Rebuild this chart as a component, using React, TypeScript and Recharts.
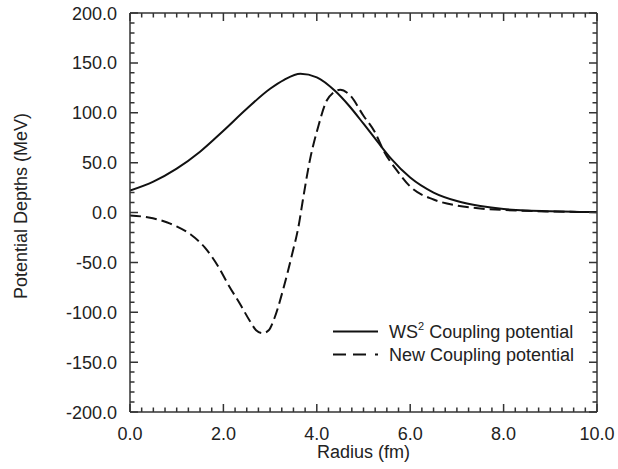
import React from "react";
import { LineChart, Line, XAxis, YAxis, Legend, Label } from "recharts";

// ---- data ----
const wsRadius = [0, 0.5, 1.0, 1.5, 2.0, 2.5, 3.0, 3.3, 3.65, 4.0, 4.4, 4.7, 5.0, 5.3, 5.6, 6.0, 6.5, 7.0, 7.5, 8.0, 8.5, 9.0, 9.5, 10.0];
const wsValues = [22, 31, 44, 61, 82, 104, 124, 133, 139, 135.5, 121.5, 106.5, 89, 71, 53.5, 35, 20, 11.5, 6.5, 3.5, 2, 1.2, 0.7, 0.4];

const newRadius = [0, 0.4, 0.8, 1.0, 1.3, 1.6, 1.9, 2.1, 2.36, 2.57, 2.7, 2.84, 2.97, 3.1, 3.28, 3.46, 3.62, 3.7, 3.85, 4.03, 4.21, 4.35, 4.5, 4.7, 5.0, 5.25, 5.42, 5.75, 6.0, 6.5, 7.0, 7.5, 8.0, 9.0, 10.0];
const newValues = [-3, -5, -10, -14, -22, -35, -55, -72, -92, -109, -118, -121, -118, -105, -77, -44, -11, 12, 52, 86, 112, 120, 123, 118, 97, 80, 63, 40, 26, 13, 7, 4, 2.5, 1, 0.3];

const xMajorTicks = [0, 2, 4, 6, 8, 10];
const yMajorTicks = [-200, -150, -100, -50, 0, 50, 100, 150, 200];
const xMinorStep = 0.25;
const yMinorStep = 10;

const seriesNames = { ws: "WS", wsSup: "2", wsRest: " Coupling potential", newer: "New Coupling potential" };
const xTitle = "Radius (fm)";
const yTitle = "Potential Depths (MeV)";

const wsData = wsRadius.map((r, i) => ({ r, v: wsValues[i] }));
const newData = newRadius.map((r, i) => ({ r, v: newValues[i] }));

const FONT = "'Liberation Sans', Arial, Helvetica, sans-serif";
const TXT = "#222";
const TICK = "#333";

const xMin = 0, xMax = 10, yMin = -200, yMax = 200;
const xAllTicks: number[] = [];
for (let i = 0; i <= Math.round((xMax - xMin) / xMinorStep); i++) xAllTicks.push(+(xMin + i * xMinorStep).toFixed(2));
const yAllTicks: number[] = [];
for (let i = 0; i <= Math.round((yMax - yMin) / yMinorStep); i++) yAllTicks.push(yMin + i * yMinorStep);

// plot frame in page pixels (chart placed at page 0,0)
const W = 618, H = 469;
const PL = 130, PR = 597, PT = 13, PB = 412;
const MAJ = 8, MIN = 4.5;

const isXMajor = (v: number) => xMajorTicks.some((t) => Math.abs(t - v) < 1e-6);
const isYMajor = (v: number) => yMajorTicks.some((t) => Math.abs(t - v) < 1e-6);

const XTick = (props: any) => {
  const { x, payload } = props;
  const major = isXMajor(payload.value);
  const len = major ? MAJ : MIN;
  return (
    <g>
      <path d={`M${x},${PB}V${PB - len}M${x},${PT}V${PT + len}`} stroke={TICK} strokeWidth={1.5} fill="none" />
      {major && (
        <text x={x} y={440} textAnchor="middle" fontFamily={FONT} fontSize={18} fill={TXT}>
          {Number(payload.value).toFixed(1)}
        </text>
      )}
    </g>
  );
};
const YTick = (props: any) => {
  const { y, payload } = props;
  const major = isYMajor(payload.value);
  const len = major ? MAJ : MIN;
  return (
    <g>
      <path d={`M${PL},${y}H${PL + len}M${PR},${y}H${PR - len}`} stroke={TICK} strokeWidth={1.5} fill="none" />
      {major && (
        <text x={117} y={y + 6.5} textAnchor="end" fontFamily={FONT} fontSize={18} fill={TXT}>
          {Number(payload.value).toFixed(1)}
        </text>
      )}
    </g>
  );
};

const LegendBox = () => (
  <svg width={270} height={50} style={{ display: "block", overflow: "visible" }}>
    <line x1={0} x2={45} y1={11.5} y2={11.5} stroke="#111" strokeWidth={2} />
    <text x={56} y={18} fontFamily={FONT} fontSize={18} fill={TXT}>
      {seriesNames.ws}
      <tspan fontSize={11} dy={-8}>{seriesNames.wsSup}</tspan>
      <tspan dy={8}>{seriesNames.wsRest}</tspan>
    </text>
    <line x1={0} x2={45} y1={34.5} y2={34.5} stroke="#111" strokeWidth={2} strokeDasharray="13 7 13 9 3 100" />
    <text x={56} y={41} fontFamily={FONT} fontSize={18} fill={TXT}>
      {seriesNames.newer}
    </text>
  </svg>
);

const frameLine = { stroke: "#333", strokeWidth: 1.5 };

export default function App() {
  return (
    <div style={{ position: "absolute", left: 0, top: 0, width: W, height: H }}>
      <LineChart width={W} height={H} margin={{ top: PT - 1, right: W - PR - 1, bottom: 0, left: 0 }}>
        <XAxis
          dataKey="r"
          type="number"
          domain={[xMin, xMax]}
          ticks={xAllTicks}
          allowDataOverflow
          tickLine={false}
          axisLine={frameLine}
          height={H - PB}
          tick={<XTick />}
          interval={0}
        >
          <Label
            content={() => (
              <text x={(PL + PR) / 2} y={458} textAnchor="middle" fontFamily={FONT} fontSize={18} fill={TXT}>
                {xTitle}
              </text>
            )}
          />
        </XAxis>
        <XAxis
          xAxisId="top"
          orientation="top"
          type="number"
          domain={[xMin, xMax]}
          ticks={[xMin, xMax]}
          allowDataOverflow
          tickLine={false}
          tick={false}
          axisLine={frameLine}
          height={1}
        />
        <YAxis
          type="number"
          domain={[yMin, yMax]}
          ticks={yAllTicks}
          allowDataOverflow
          tickLine={false}
          axisLine={frameLine}
          width={PL}
          tick={<YTick />}
          interval={0}
        >
          <Label
            content={() => (
              <text x={0} y={0} transform="translate(27,206) rotate(-90)" textAnchor="middle" fontFamily={FONT} fontSize={18} fill={TXT}>
                {yTitle}
              </text>
            )}
          />
        </YAxis>
        <YAxis
          yAxisId="right"
          orientation="right"
          type="number"
          domain={[yMin, yMax]}
          ticks={[yMin, yMax]}
          allowDataOverflow
          tickLine={false}
          tick={false}
          axisLine={frameLine}
          width={1}
        />

        <Line data={wsData} dataKey="v" name="WS2 Coupling potential" type="monotone" stroke="#111" strokeWidth={2} dot={false} activeDot={false} isAnimationActive={false} />
        <Line data={newData} dataKey="v" name="New Coupling potential" type="monotone" stroke="#111" strokeWidth={2} strokeDasharray="11 5" dot={false} activeDot={false} isAnimationActive={false} />
        <Legend layout="vertical" align="center" verticalAlign="middle" wrapperStyle={{ left: 333, top: 320, width: 270, height: 50 }} content={() => <LegendBox />} />
      </LineChart>
    </div>
  );
}
